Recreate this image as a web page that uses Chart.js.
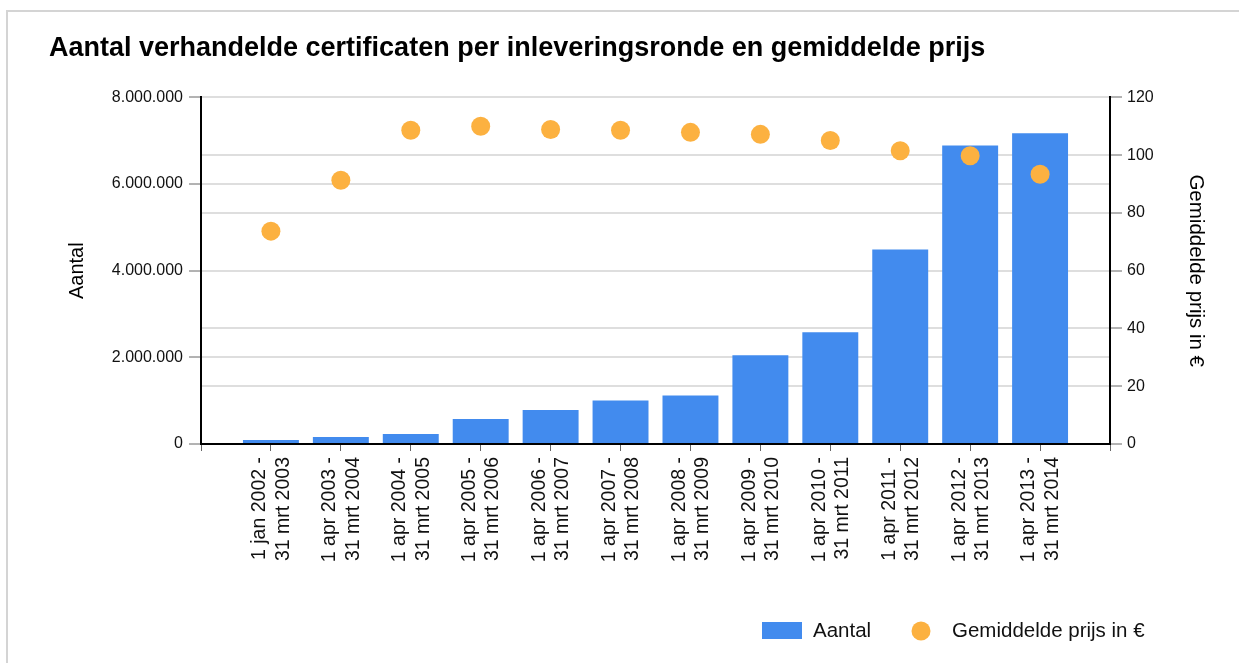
<!DOCTYPE html>
<html>
<head>
<meta charset="utf-8">
<script src="https://cdn.jsdelivr.net/npm/chart.js@4/dist/chart.umd.min.js"></script>
<style>
  html, body { margin: 0; padding: 0; background: #fff; }
  #wrap { position: relative; width: 1239px; height: 663px; overflow: hidden; }
  #frame { position: absolute; left: 6px; top: 10px; width: 1300px; height: 700px; border: 2px solid #d4d4d4; box-sizing: border-box; }
  canvas { position: absolute; left: 0; top: 0; }
</style>
</head>
<body>
<div id="wrap">
  <div id="frame"></div>
  <canvas id="chart" width="1239" height="663"></canvas>
</div>
<script>
const periods = [
  ['1 jan 2002 -', '31 mrt 2003'],
  ['1 apr 2003 -', '31 mrt 2004'],
  ['1 apr 2004 -', '31 mrt 2005'],
  ['1 apr 2005 -', '31 mrt 2006'],
  ['1 apr 2006 -', '31 mrt 2007'],
  ['1 apr 2007 -', '31 mrt 2008'],
  ['1 apr 2008 -', '31 mrt 2009'],
  ['1 apr 2009 -', '31 mrt 2010'],
  ['1 apr 2010 -', '31 mrt 2011'],
  ['1 apr 2011 -', '31 mrt 2012'],
  ['1 apr 2012 -', '31 mrt 2013'],
  ['1 apr 2013 -', '31 mrt 2014']
];
const aantal = [90000, 160000, 230000, 575000, 785000, 1005000, 1120000, 2050000, 2580000, 4490000, 6890000, 7170000];
const prijs = [73.7, 91.3, 108.6, 110.0, 108.9, 108.6, 107.9, 107.2, 105.1, 101.5, 99.8, 93.4];

const aantalTicks = [0, 2000000, 4000000, 6000000, 8000000];
const prijsTicks = [0, 20, 40, 60, 80, 100, 120];

const blue = '#428bee';
const orange = '#fcb140';
const font = 'Liberation Sans, Arial, sans-serif';

// empty slot on both sides, like the original
const labels = [''].concat(periods, ['']);
const pad = arr => [null].concat(arr, [null]);

function dots(n) {
  return String(n).replace(/\B(?=(\d{3})+(?!\d))/g, '.');
}

// legend drawn by hand: a wide box for the bars, a dot for the prices
const legendPlugin = {
  id: 'customLegend',
  afterDraw(chart) {
    const ctx = chart.ctx;
    const bars = chart.data.datasets.find(d => d.type !== 'line');
    const dotsSet = chart.data.datasets.find(d => d.type === 'line');
    ctx.save();
    ctx.font = '20.5px ' + font;
    ctx.textBaseline = 'middle';
    ctx.fillStyle = bars.backgroundColor;
    ctx.fillRect(762, 622, 40, 17);
    ctx.fillStyle = '#111';
    ctx.fillText(bars.label, 813, 631);
    ctx.beginPath();
    ctx.arc(921, 631, 9.5, 0, Math.PI * 2);
    ctx.fillStyle = dotsSet.backgroundColor;
    ctx.fill();
    ctx.fillStyle = '#111';
    ctx.fillText(dotsSet.label, 952, 631);
    ctx.restore();
  }
};

new Chart(document.getElementById('chart'), {
  type: 'bar',
  data: {
    labels: labels,
    datasets: [
      {
        type: 'line',
        label: 'Gemiddelde prijs in €',
        data: pad(prijs),
        yAxisID: 'y1',
        showLine: false,
        pointRadius: 9.5,
        pointHoverRadius: 9.5,
        pointBorderWidth: 0,
        backgroundColor: orange,
        borderColor: orange,
        order: 0
      },
      {
        label: 'Aantal',
        data: pad(aantal),
        yAxisID: 'y',
        backgroundColor: blue,
        barPercentage: 0.8,
        categoryPercentage: 1,
        order: 1
      }
    ]
  },
  options: {
    responsive: false,
    animation: false,
    layout: { padding: { left: 49, right: 20, top: 0, bottom: 89 } },
    plugins: {
      legend: { display: false },
      tooltip: { enabled: false },
      title: {
        display: true,
        text: 'Aantal verhandelde certificaten per inleveringsronde en gemiddelde prijs',
        align: 'start',
        color: '#000',
        font: { family: font, size: 27, weight: 'bold' },
        padding: { top: 32, bottom: 33 }
      }
    },
    scales: {
      x: {
        offset: false,
        grid: { offset: false, drawOnChartArea: false, drawTicks: true, tickLength: 7, tickColor: '#666', tickWidth: 1 },
        border: { color: '#000', width: 2 },
        ticks: {
          autoSkip: false,
          minRotation: 90,
          maxRotation: 90,
          padding: 6,
          labelOffset: -11,
          color: '#111',
          font: { family: font, size: 19.5, lineHeight: 1.2 }
        },
        afterFit(scale) { scale.height = 130; }
      },
      y: {
        position: 'left',
        min: 0,
        max: 8000000,
        afterBuildTicks(scale) { scale.ticks = aantalTicks.map(v => ({ value: v })); },
        grid: { color: '#dedede', lineWidth: 2, tickColor: '#666', tickWidth: 1, tickLength: 12 },
        border: { color: '#000', width: 2 },
        ticks: {
          padding: 6,
          color: '#111',
          font: { family: font, size: 16 },
          callback: v => dots(v)
        },
        title: {
          display: true,
          text: 'Aantal',
          color: '#000',
          font: { family: font, size: 20 },
          padding: { top: 16, bottom: 4 }
        },
        afterFit(scale) { scale.width = 152; }
      },
      y1: {
        position: 'right',
        min: 0,
        max: 120,
        afterBuildTicks(scale) { scale.ticks = prijsTicks.map(v => ({ value: v })); },
        grid: { color: '#dedede', lineWidth: 2, tickColor: '#666', tickWidth: 1, tickLength: 12 },
        border: { color: '#000', width: 2 },
        ticks: {
          padding: 5,
          color: '#111',
          font: { family: font, size: 16 }
        },
        title: {
          display: true,
          text: 'Gemiddelde prijs in €',
          color: '#000',
          font: { family: font, size: 20.5 },
          padding: { top: 11, bottom: 4 }
        },
        afterFit(scale) { scale.width = 109; }
      }
    }
  },
  plugins: [legendPlugin]
});
</script>
</body>
</html>
